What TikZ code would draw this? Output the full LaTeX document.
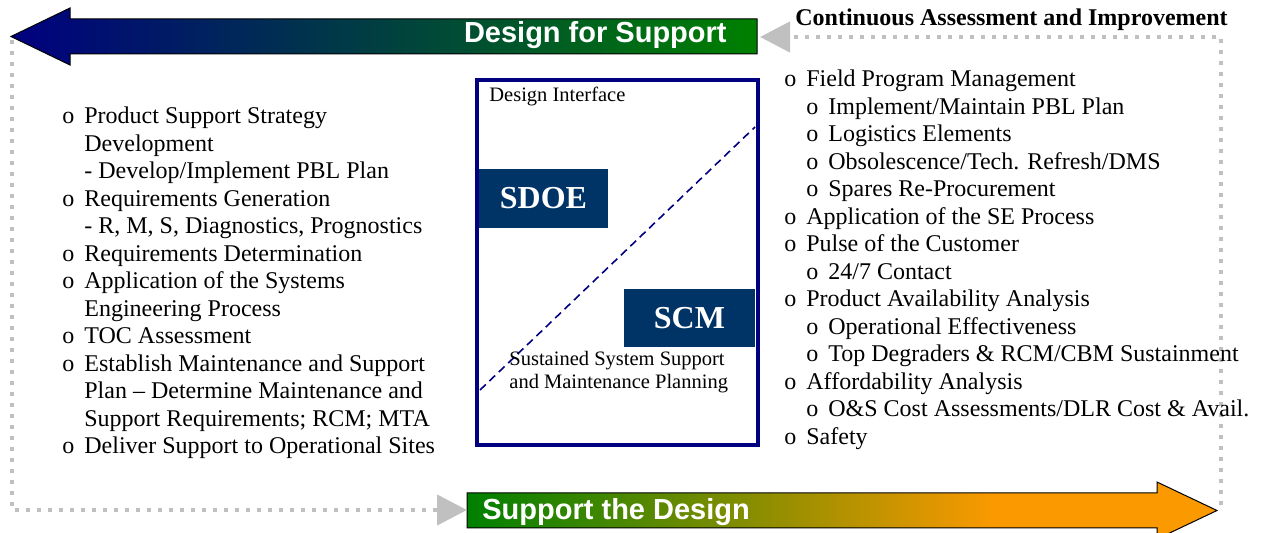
\documentclass[tikz,border=0pt]{standalone}
\usepackage{fontspec}
\setmainfont{Liberation Serif}
\newfontfamily\arrowfont{Liberation Sans}
\usetikzlibrary{arrows.meta}
\definecolor{dfsnavy}{RGB}{0,0,128}
\definecolor{dfsgreen}{RGB}{0,128,0}
\definecolor{stdorange}{RGB}{250,153,0}
\definecolor{boxblue}{RGB}{0,51,102}
\definecolor{loopgray}{RGB}{192,192,192}
\pgfdeclarehorizontalshading{stdshade}{100bp}{color(0bp)=(dfsgreen); color(25bp)=(dfsgreen); color(60bp)=(stdorange); color(100bp)=(stdorange)}
\newcommand{\bul}{\makebox[11pt][l]{o}}
\newcommand{\ind}{\hspace*{11pt}}
\tikzset{
	listtext/.style={anchor=north west, inner sep=0pt, align=left, font=\fontsize{12}{13.75}\selectfont},
	smalltext/.style={inner sep=0pt, align=left, font=\fontsize{10.25}{11.5}\selectfont},
	boxlabel/.style={fill=boxblue, text=white, inner sep=0pt, font=\fontsize{16}{18}\selectfont\bfseries},
	arrowlabel/.style={text=white, inner sep=0pt, font=\arrowfont\fontsize{14.5}{16}\selectfont\bfseries},
	loopline/.style={loopgray, line width=2.2pt, dash pattern=on 2.2pt off 3.3pt, -{Triangle[length=15pt, width=15pt]}}
}
\begin{document}
\begin{tikzpicture}[x=0.5pt, y=-0.5pt]
			\useasboundingbox (0,0) rectangle (1265,533);
			% the two big arrows
			\shade[left color=dfsnavy, right color=dfsgreen, draw=black, line width=0.5pt] (11,36.5) -- (70,8) -- (70,19) -- (757,19) -- (757,54) -- (70,54) -- (70,65) -- cycle;
			\shade[shading=stdshade, draw=black, line width=0.5pt] (467,493) -- (1157,493) -- (1157,482) -- (1217,510.5) -- (1157,539) -- (1157,528) -- (467,528) -- cycle;
			\node[arrowlabel, anchor=base east] (dfs) at (727,43) {Design for Support};
			\node[arrowlabel, anchor=base west] (std) at (482,520) {Support the Design};
			\coordinate (dfshead) at (760,37);
			\coordinate (stdtail) at (467,510);
			\coordinate (loopse) at (1221,505);
			\coordinate (loopne) at (1221,37);
			\coordinate (loopnw) at (12,40);
			\coordinate (loopsw) at (12,510);
			\draw[loopline] (loopse) -- (loopne) -- (dfshead);
			\draw[loopline] (loopnw) -- (loopsw) -- (stdtail);
			\node[anchor=base west, inner sep=0pt, font=\fontsize{12}{14}\selectfont\bfseries] (cai) at (795,26) {Continuous Assessment and Improvement};
			% design interface frame
			\node[draw=dfsnavy, line width=2pt, minimum width=140.5pt, minimum height=182.5pt] (frame) at (617.5,262.5) {};
			\coordinate (diaga) at (480,390);
			\coordinate (diagb) at (755,127);
			\draw[dfsnavy, line width=0.8pt, dash pattern=on 4pt off 2.5pt] (diaga) -- (diagb);
			\node[smalltext, anchor=base west] (di) at (489,102) {Design Interface};
			\node[boxlabel, minimum width=64.5pt, minimum height=29.5pt] (sdoe) at (543.5,198.5) {SDOE};
			\node[boxlabel, minimum width=65.5pt, minimum height=29pt] (scm) at (689.5,318) {SCM};
			\node[smalltext, anchor=north west] (sss) at (509,351) {Sustained System Support\\and Maintenance Planning};
			% the two lists
			\node[listtext] (left) at (62,106.6) {\bul Product Support Strategy\\
				\ind Development\\
				\ind - Develop/Implement PBL Plan\\
				\bul Requirements Generation\\
				\ind - R, M, S, Diagnostics, Prognostics\\
				\bul Requirements Determination\\
				\bul Application of the Systems\\
				\ind Engineering Process\\
				\bul TOC Assessment\\
				\bul Establish Maintenance and Support\\
				\ind Plan -- Determine Maintenance and\\
				\ind Support Requirements; RCM; MTA\\
				\bul Deliver Support to Operational Sites};
			\node[listtext] (right) at (784,69.6) {\bul Field Program Management\\
				\ind\bul Implement/Maintain PBL Plan\\
				\ind\bul Logistics Elements\\
				\ind\bul Obsolescence/Tech. Refresh/DMS\\
				\ind\bul Spares Re-Procurement\\
				\bul Application of the SE Process\\
				\bul Pulse of the Customer\\
				\ind\bul 24/7 Contact\\
				\bul Product Availability Analysis\\
				\ind\bul Operational Effectiveness\\
				\ind\bul Top Degraders \& RCM/CBM Sustainment\\
				\bul Affordability Analysis\\
				\ind\bul O\&S Cost Assessments/DLR Cost \& Avail.\\
				\bul Safety};
			\end{tikzpicture}
\end{document}
